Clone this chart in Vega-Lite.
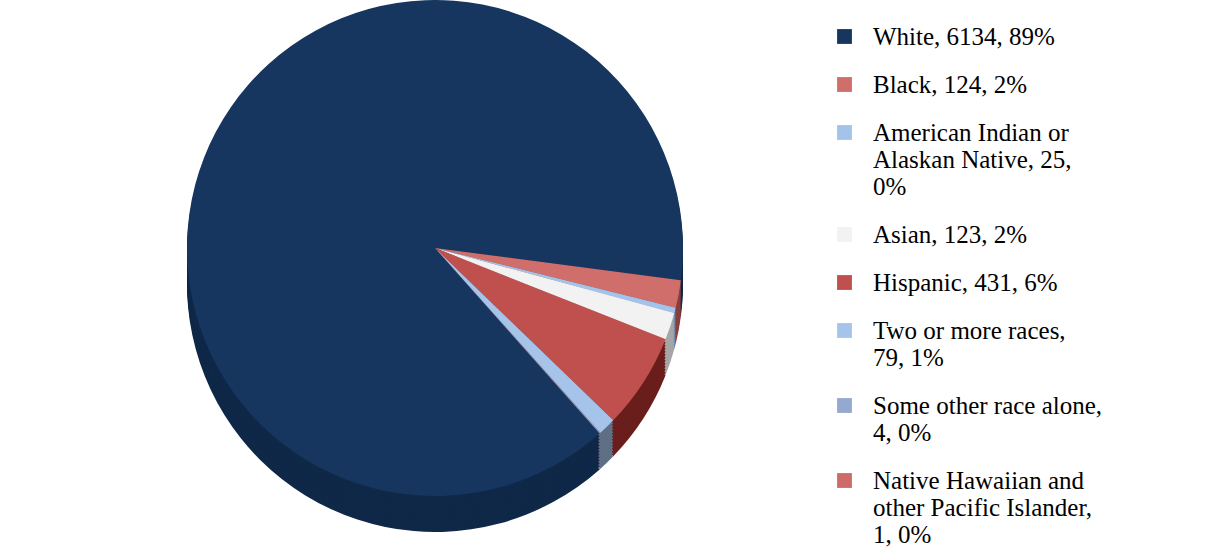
{
  "$schema": "https://vega.github.io/schema/vega-lite/v6.json",
  "width": 870,
  "height": 496,
  "padding": 0,
  "autosize": {"type": "pad"},
  "background": "white",
  "view": {"stroke": null},
  "config": {"font": "Liberation Serif"},
  "data": {
    "values": [
      {"order": 1, "race": "White", "count": 6134, "pct": 89, "label": "White, 6134, 89%"},
      {"order": 2, "race": "Black", "count": 124, "pct": 2, "label": "Black, 124, 2%"},
      {"order": 3, "race": "American Indian or Alaskan Native", "count": 25, "pct": 0, "label": "American Indian or\nAlaskan Native, 25,\n0%"},
      {"order": 4, "race": "Asian", "count": 123, "pct": 2, "label": "Asian, 123, 2%"},
      {"order": 5, "race": "Hispanic", "count": 431, "pct": 6, "label": "Hispanic, 431, 6%"},
      {"order": 6, "race": "Two or more races", "count": 79, "pct": 1, "label": "Two or more races,\n79, 1%"},
      {"order": 7, "race": "Some other race alone", "count": 4, "pct": 0, "label": "Some other race alone,\n4, 0%"},
      {"order": 8, "race": "Native Hawaiian and other Pacific Islander", "count": 1, "pct": 0, "label": "Native Hawaiian and\nother Pacific Islander,\n1, 0%"}
    ]
  },
  "encoding": {
    "theta": {"field": "count", "type": "quantitative", "stack": true, "scale": {"range": [2.4155, 8.6987]}},
    "order": {"field": "order", "type": "quantitative"}
  },
  "layer": [
    {"mark": {"type": "arc", "radius": 248, "yOffset": 36}, "encoding": {"fill": {"field": "label", "type": "nominal", "sort": {"field": "order"}, "legend": null, "scale": {"range": ["#0F2848", "#8A3F3D", "#6E8AAE", "#A6A6A6", "#6A1E1C", "#5E6F86", "#5F7094", "#8A3F3D"]}}}},
    {"mark": {"type": "arc", "radius": 248, "yOffset": 33}, "encoding": {"fill": {"field": "label", "type": "nominal", "sort": {"field": "order"}, "legend": null}}},
    {"mark": {"type": "arc", "radius": 248, "yOffset": 30}, "encoding": {"fill": {"field": "label", "type": "nominal", "sort": {"field": "order"}, "legend": null}}},
    {"mark": {"type": "arc", "radius": 248, "yOffset": 27}, "encoding": {"fill": {"field": "label", "type": "nominal", "sort": {"field": "order"}, "legend": null}}},
    {"mark": {"type": "arc", "radius": 248, "yOffset": 24}, "encoding": {"fill": {"field": "label", "type": "nominal", "sort": {"field": "order"}, "legend": null}}},
    {"mark": {"type": "arc", "radius": 248, "yOffset": 21}, "encoding": {"fill": {"field": "label", "type": "nominal", "sort": {"field": "order"}, "legend": null}}},
    {"mark": {"type": "arc", "radius": 248, "yOffset": 18}, "encoding": {"fill": {"field": "label", "type": "nominal", "sort": {"field": "order"}, "legend": null}}},
    {"mark": {"type": "arc", "radius": 248, "yOffset": 15}, "encoding": {"fill": {"field": "label", "type": "nominal", "sort": {"field": "order"}, "legend": null}}},
    {"mark": {"type": "arc", "radius": 248, "yOffset": 12}, "encoding": {"fill": {"field": "label", "type": "nominal", "sort": {"field": "order"}, "legend": null}}},
    {"mark": {"type": "arc", "radius": 248, "yOffset": 9}, "encoding": {"fill": {"field": "label", "type": "nominal", "sort": {"field": "order"}, "legend": null}}},
    {"mark": {"type": "arc", "radius": 248, "yOffset": 6}, "encoding": {"fill": {"field": "label", "type": "nominal", "sort": {"field": "order"}, "legend": null}}},
    {"mark": {"type": "arc", "radius": 248, "yOffset": 3}, "encoding": {"fill": {"field": "label", "type": "nominal", "sort": {"field": "order"}, "legend": null}}},
    {
      "mark": {"type": "arc", "radius": 248},
      "encoding": {
        "color": {
          "field": "label",
          "type": "nominal",
          "sort": {"field": "order"},
          "scale": {"range": ["#16365F", "#CF6E6B", "#A4C3EA", "#F2F2F2", "#C0504D", "#A6C4EA", "#95A9D0", "#CD6B69"]},
          "legend": {
            "title": null,
            "orient": "none",
            "legendX": 832,
            "legendY": 24,
            "direction": "vertical",
            "symbolType": "square",
            "symbolSize": 220,
            "symbolStrokeWidth": 0,
            "labelFont": "Liberation Serif",
            "labelFontSize": 25,
            "labelColor": "#000000",
            "labelLimit": 0,
            "labelOffset": 16,
            "labelBaseline": "middle",
            "rowPadding": 22,
            "labelExpr": "split(datum.label, '\\n')"
          }
        }
      }
    }
  ]
}
